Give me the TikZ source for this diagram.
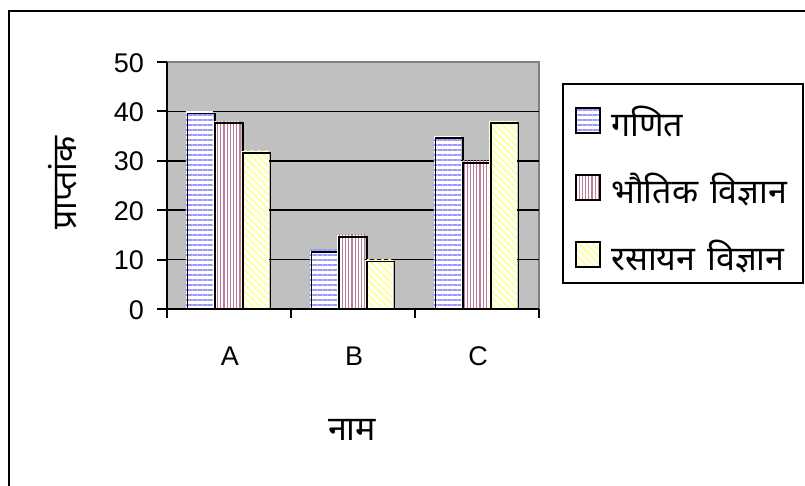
\documentclass[tikz,border=0pt]{standalone}
\usepackage{fontspec}
\setmainfont{Liberation Sans}
\newfontfamily\deva[Script=Devanagari]{Noto Sans}
\usetikzlibrary{patterns.meta}
\definecolor{plotgray}{HTML}{C0C0C0}
\definecolor{bordergray}{HTML}{808080}
\definecolor{pblue}{HTML}{9999FF}
\definecolor{pred}{HTML}{C07C9C}
\definecolor{pyellow}{HTML}{FFFF99}
\tikzset{
  gblue/.style={fill=white, postaction={pattern={Lines[angle=0,distance=5pt,line width=1.6pt]}, pattern color=pblue}},
  gred/.style={fill=white, postaction={pattern={Lines[angle=90,distance=3.2pt,line width=1.1pt]}, pattern color=pred}},
  gyellow/.style={fill=white, postaction={pattern={Lines[angle=-45,distance=5pt,line width=1.8pt]}, pattern color=pyellow}},
  baredge/.style={draw=black, line width=1.6pt},
  numlab/.style={font=\fontsize{27}{30}\selectfont, inner sep=0pt},
  devlab/.style={font=\deva\fontsize{34}{38}\selectfont, inner sep=0pt},
}
\newcommand\chartbar[3]{%
  \path[#3] (#1,309) rectangle ++(27.7,{-#2*4.94});
  \draw[baredge] ({#1+2},309) rectangle ++(27.7,{-#2*4.94+2});
}
\begin{document}
\begin{tikzpicture}[x=1pt,y=-1pt]
\useasboundingbox (0,0) rectangle (805,485);
\clip (0,0) rectangle (805,485);
\fill[white] (0,0) rectangle (805,485);
% outer frame
\draw[line width=2pt] (9,10.5) rectangle (815,495);
% plot area
\fill[plotgray] (167,62) rectangle (539,309);
\draw[bordergray, line width=1.5pt] (167,62) -- (539,62) -- (539,309);
% gridlines
\foreach \v in {10,20,30,40}{
  \draw[line width=1.5pt] (167,{309-\v*4.94}) -- (539,{309-\v*4.94});
}
% bars
\chartbar{185.5}{40}{gblue}
\chartbar{213.2}{38}{gred}
\chartbar{240.9}{32}{gyellow}
\chartbar{309.5}{12}{gblue}
\chartbar{337.2}{15}{gred}
\chartbar{364.9}{10}{gyellow}
\chartbar{433.5}{35}{gblue}
\chartbar{461.2}{30}{gred}
\chartbar{488.9}{38}{gyellow}
% axes
\draw[line width=2pt] (167,62) -- (167,309) -- (539,309);
\foreach \v in {0,10,20,30,40,50}{
  \draw[line width=2pt] (157,{309-\v*4.94}) -- (167,{309-\v*4.94});
  \node[numlab, anchor=base east] (y\v) at (144,{319-\v*4.94}) {\v};
}
\foreach \x in {167,291,415,539}{
  \draw[line width=2pt] (\x,309) -- (\x,318);
}
\node[numlab, anchor=base] (catA) at (230,365) {A};
\node[numlab, anchor=base] (catB) at (354,365) {B};
\node[numlab, anchor=base] (catC) at (478,365) {C};
% axis titles
\node[devlab, anchor=base] (xtitle) at (352,440) {नाम};
\node[devlab, anchor=base, rotate=90] (ytitle) at (76,183) {प्राप्तांक};
% legend
\draw[line width=1.5pt, fill=white] (563,84) rectangle (803,283);
\path[gblue] (576,108) rectangle (600,133);
\draw[line width=1.3pt] (576,108) rectangle (600,133);
\path[gred] (576,175) rectangle (600,200);
\draw[line width=1.3pt] (576,175) rectangle (600,200);
\path[gyellow] (576,242) rectangle (600,267);
\draw[line width=1.3pt] (576,242) rectangle (600,267);
\node[devlab, anchor=base west] (leg1) at (611,136) {गणित};
\node[devlab, anchor=base west] (leg2) at (611,203) {भौतिक\hspace{0.35em}विज्ञान};
\node[devlab, anchor=base west] (leg3) at (611,270) {रसायन\hspace{0.35em}विज्ञान};
\end{tikzpicture}
\end{document}
